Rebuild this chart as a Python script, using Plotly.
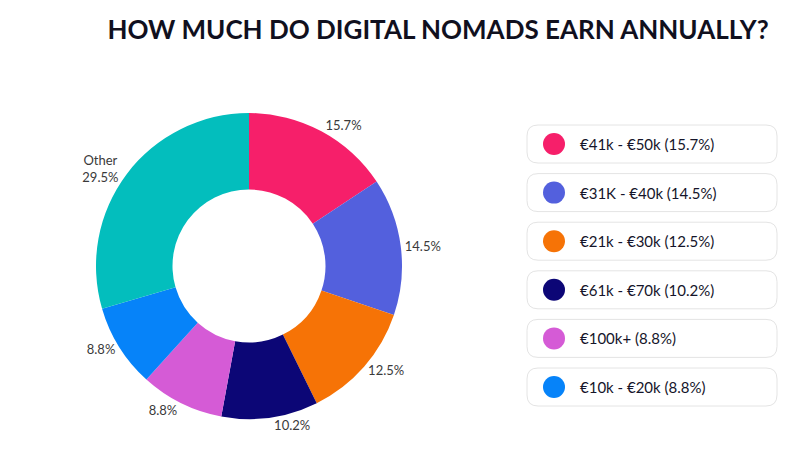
import plotly.graph_objects as go

# income bands, clockwise from 12 o'clock
bands = ["€41k - €50k", "€31K - €40k", "€21k - €30k", "€61k - €70k",
         "€100k+", "€10k - €20k", "Other"]
shares = [15.7, 14.5, 12.5, 10.2, 8.8, 8.8, 29.5]
colors = ["#F61F6A", "#5360DD", "#F67306", "#0C0676", "#D55BD6", "#0683F9", "#03BEBD"]

# legend only lists the first six bands
legend_count = 6

slice_text = [f"{s}%" if b != "Other" else f"{b}<br>{s}%" for b, s in zip(bands, shares)]

W, H = 800, 453
OFF = 8  # page body margin


def px(x):
    return (x - OFF) / W


def py(y):
    return 1 - (y - OFF) / H


cx, cy0, rad = 249, 266, 153

fig = go.Figure(go.Pie(
    labels=bands,
    values=shares,
    text=slice_text,
    textinfo="text",
    textposition="outside",
    textfont=dict(family="Lato", size=13, color="#3a3a3a"),
    marker=dict(colors=colors, line=dict(width=0)),
    hole=0.5,
    sort=False,
    direction="clockwise",
    rotation=0,
    showlegend=False,
    hoverinfo="label+percent",
    domain=dict(x=[px(cx - rad), px(cx + rad)], y=[py(cy0 + rad), py(cy0 - rad)]),
))

# hand-made legend: rounded boxes with a dot and label
box_x0, box_x1 = 527, 777
box_top, box_h, box_gap = 125, 38, 48.6


def rounded_box(x0, y0, x1, y1, r):
    # pixel coords in, paper path out
    pts = []
    a, b, c, d = px(x0), px(x1), py(y0), py(y1)
    rx, ry = r / W, r / H
    return (f"M{a+rx},{c} L{b-rx},{c} Q{b},{c} {b},{c-ry} "
            f"L{b},{d+ry} Q{b},{d} {b-rx},{d} L{a+rx},{d} "
            f"Q{a},{d} {a},{d+ry} L{a},{c-ry} Q{a},{c} {a+rx},{c} Z")


shapes = []
annotations = []
for i in range(legend_count):
    top = box_top + i * box_gap
    shapes.append(dict(
        type="path", xref="paper", yref="paper",
        path=rounded_box(box_x0, top, box_x1, top + box_h, 11),
        line=dict(color="#E4E4E4", width=1), fillcolor="white", layer="below"))
    cy = top + box_h / 2
    shapes.append(dict(
        type="circle", xref="paper", yref="paper",
        x0=px(554 - 11), x1=px(554 + 11), y0=py(cy + 11), y1=py(cy - 11),
        fillcolor=colors[i], line=dict(width=0)))
    annotations.append(dict(
        x=px(578), y=py(cy), xref="paper", yref="paper",
        xanchor="left", yanchor="middle", showarrow=False,
        text=f"{bands[i]} ({shares[i]}%)",
        font=dict(family="Lato", size=15, color="#15152A")))

fig.update_layout(
    width=W, height=H,
    margin=dict(l=0, r=0, t=0, b=0),
    paper_bgcolor="white",
    plot_bgcolor="white",
    title=dict(text="<b>HOW MUCH DO DIGITAL NOMADS EARN ANNUALLY?</b>",
               x=px(438), xanchor="center", y=py(30), yanchor="middle",
               font=dict(family="Lato", size=26, color="#10101E")),
    shapes=shapes,
    annotations=annotations,
)

fig.write_html("out.html")
